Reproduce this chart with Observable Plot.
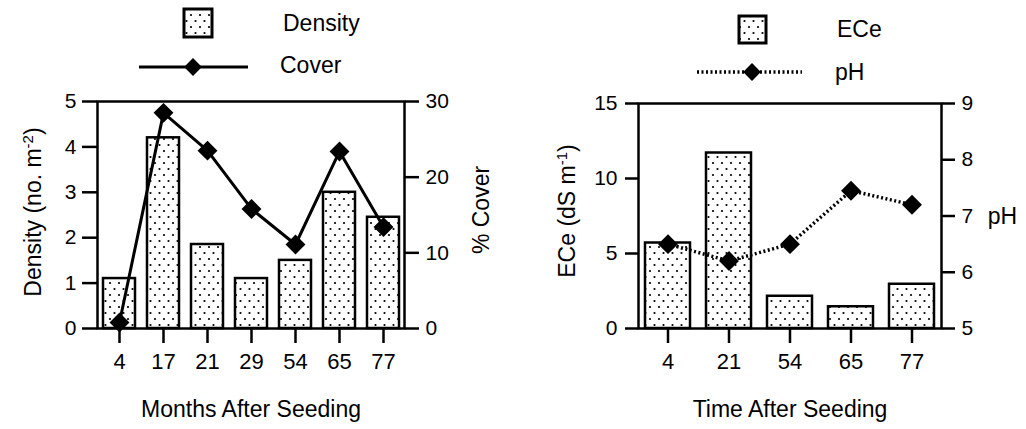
<!DOCTYPE html>
<html><head><meta charset="utf-8">
<script src="https://cdn.jsdelivr.net/npm/d3@7"></script>
<script src="https://cdn.jsdelivr.net/npm/@observablehq/plot@0.6"></script>
<style>
body{margin:0;background:#fff;}
#root{position:relative;width:1026px;height:429px;overflow:hidden;background:#fff;font-family:"Liberation Sans",Arial,Helvetica,sans-serif;}
#root > svg{position:absolute;overflow:visible;}
</style></head><body>
<svg width="0" height="0" style="position:absolute"><defs>
<pattern id="dots" patternUnits="userSpaceOnUse" width="9" height="12">
<rect width="9" height="12" fill="#fff"/>
<circle cx="2" cy="3" r="1.1" fill="#000"/>
<circle cx="6.5" cy="9" r="1.1" fill="#000"/>
</pattern></defs></svg>
<div id="root"></div>
<script>
// ---- data ----
const months = ["4","17","21","29","54","65","77"];
const density = [1.1, 4.2, 1.85, 1.1, 1.5, 3.0, 2.45];
const cover = [0.8, 28.5, 23.5, 15.8, 11.1, 23.4, 13.4];
const densityTicks = [0,1,2,3,4,5];
const coverTicks = [0,10,20,30];

const times = ["4","21","54","65","77"];
const ece = [5.7, 11.7, 2.15, 1.45, 2.95];
const ph = [6.5, 6.2, 6.5, 7.45, 7.2];
const eceTicks = [0,5,10,15];
const phTicks = [5,6,7,8,9];

const FONT = '"Liberation Sans", Arial, Helvetica, sans-serif';
const root = document.getElementById("root");
const fmt = d3.format("d");

function place(svg, left, top){
  svg.style.left = left + "px"; svg.style.top = top + "px";
  root.appendChild(svg);
}
function sup(svg, base, s, tail){
  d3.select(svg).selectAll("text").filter(function(){return this.textContent === base + s + tail;}).each(function(){
    const t = d3.select(this); t.text(null);
    t.append("tspan").text(base);
    t.append("tspan").attr("dy", "-8").attr("font-size", "15").text(s);
    t.append("tspan").attr("dy", "8").text(tail);
  });
}
const style = {fontFamily: FONT, fontSize: "21px", color: "#000", background: "transparent", overflow: "visible"};

// ---- left panel ----
const leftData = months.map((m, i) => ({m, density: density[i], cover: cover[i]}));
const xL = {type: "band", domain: months, paddingInner: 0.28, paddingOuter: 0.08};
const LD = {width: 513, height: 341, marginLeft: 97, marginRight: 109, marginTop: 13, marginBottom: 101};

const pL = Plot.plot({
  ...LD, style,
  x: xL, y: {domain: [0, 5]},
  marks: [
    Plot.barY(leftData, {x: "m", y: "density", fill: "url(#dots)", stroke: "#000", strokeWidth: 2.5}),
    Plot.frame({stroke: "#000", strokeWidth: 2.5}),
    Plot.axisX({anchor: "bottom", tickSize: 15, tickPadding: 10, fontSize: 22, strokeWidth: 2.5, label: null}),
    Plot.axisY({anchor: "left", ticks: densityTicks, tickFormat: fmt, tickSize: 15, tickPadding: 6, strokeWidth: 2.5, label: null}),
    Plot.text(["Months After Seeding"], {text: d => d, frameAnchor: "bottom", dy: 88, fontSize: 23}),
    Plot.text(["Density (no. m-2)"], {text: d => d, frameAnchor: "left", textAnchor: "middle", rotate: -90, dx: -64, dy: -3, fontSize: 23})
  ]
});
sup(pL, "Density (no. m", "-2", ")");
place(pL, 0, 88);

const pL2 = Plot.plot({
  ...LD, style,
  x: {...xL, axis: null}, y: {domain: [0, 30]},
  marks: [
    Plot.line(leftData, {x: "m", y: "cover", stroke: "#000", strokeWidth: 3}),
    Plot.dot(leftData, {x: "m", y: "cover", symbol: "diamond2", r: 8, fill: "#000", stroke: "#000"}),
    Plot.axisY({anchor: "right", ticks: coverTicks, tickFormat: fmt, tickSize: 14, tickPadding: 7, strokeWidth: 2.5, label: null}),
    Plot.text(["% Cover"], {text: d => d, frameAnchor: "right", textAnchor: "middle", rotate: -90, dx: 77, dy: -5, fontSize: 23})
  ]
});
place(pL2, 0, 88);

// ---- right panel ----
const rightData = times.map((t, i) => ({t, ece: ece[i], ph: ph[i]}));
const xR = {type: "band", domain: times, paddingInner: 0.27, paddingOuter: 0.11};
const RD = {width: 513, height: 341, marginLeft: 125, marginRight: 85, marginTop: 15, marginBottom: 101};

const pR = Plot.plot({
  ...RD, style,
  x: xR, y: {domain: [0, 15]},
  marks: [
    Plot.barY(rightData, {x: "t", y: "ece", fill: "url(#dots)", stroke: "#000", strokeWidth: 2.5}),
    Plot.frame({stroke: "#000", strokeWidth: 2.5}),
    Plot.axisX({anchor: "bottom", tickSize: 15, tickPadding: 10, fontSize: 22, strokeWidth: 2.5, label: null}),
    Plot.axisY({anchor: "left", ticks: eceTicks, tickFormat: fmt, tickSize: 13, tickPadding: 8, strokeWidth: 2.5, label: null}),
    Plot.text(["Time After Seeding"], {text: d => d, frameAnchor: "bottom", dy: 88, fontSize: 23}),
    Plot.text(["ECe (dS m-1)"], {text: d => d, frameAnchor: "left", textAnchor: "middle", rotate: -90, dx: -71, dy: -5, fontSize: 23})
  ]
});
sup(pR, "ECe (dS m", "-1", ")");
place(pR, 513, 88);

const pR2 = Plot.plot({
  ...RD, style,
  x: {...xR, axis: null}, y: {domain: [5, 9]},
  marks: [
    Plot.line(rightData, {x: "t", y: "ph", stroke: "#000", strokeWidth: 3.5, strokeDasharray: "2,2.5", strokeLinecap: "butt"}),
    Plot.dot(rightData, {x: "t", y: "ph", symbol: "diamond2", r: 8, fill: "#000", stroke: "#000"}),
    Plot.axisY({anchor: "right", ticks: phTicks, tickFormat: fmt, tickSize: 13, tickPadding: 7, strokeWidth: 2.5, label: null}),
    Plot.text(["pH"], {text: d => d, frameAnchor: "right", textAnchor: "middle", dx: 61, dy: 1, fontSize: 23})
  ]
});
place(pR2, 513, 88);

// ---- legends (above the plots) ----
const leg = d3.create("svg").attr("width", 1026).attr("height", 88)
  .style("font-family", FONT).style("font-size", "23px");
const diamond = d3.symbol(d3.symbolDiamond2, Math.PI * 64)();
function swatch(x, y, s){
  leg.append("rect").attr("x", x).attr("y", y).attr("width", s).attr("height", s)
    .attr("fill", "url(#dots)").attr("stroke", "#000").attr("stroke-width", 3);
}
function lineKey(x1, x2, y, cx, dash){
  leg.append("line").attr("x1", x1).attr("x2", x2).attr("y1", y).attr("y2", y)
    .attr("stroke", "#000").attr("stroke-width", dash ? 3.5 : 3).attr("stroke-dasharray", dash ? "2,2.5" : null);
  leg.append("path").attr("d", diamond).attr("transform", `translate(${cx},${y})`).attr("fill", "#000");
}
function label(x, y, t){
  leg.append("text").attr("x", x).attr("y", y).attr("dy", "0.35em").text(t);
}
swatch(184, 9, 28); label(283, 23, "Density");
lineKey(139, 248, 67, 193, false); label(280, 65, "Cover");
swatch(739, 16, 27); label(837, 29, "ECe");
lineKey(697, 802, 72, 752, true); label(835, 72, "pH");
place(leg.node(), 0, 0);
</script>
</body></html>
